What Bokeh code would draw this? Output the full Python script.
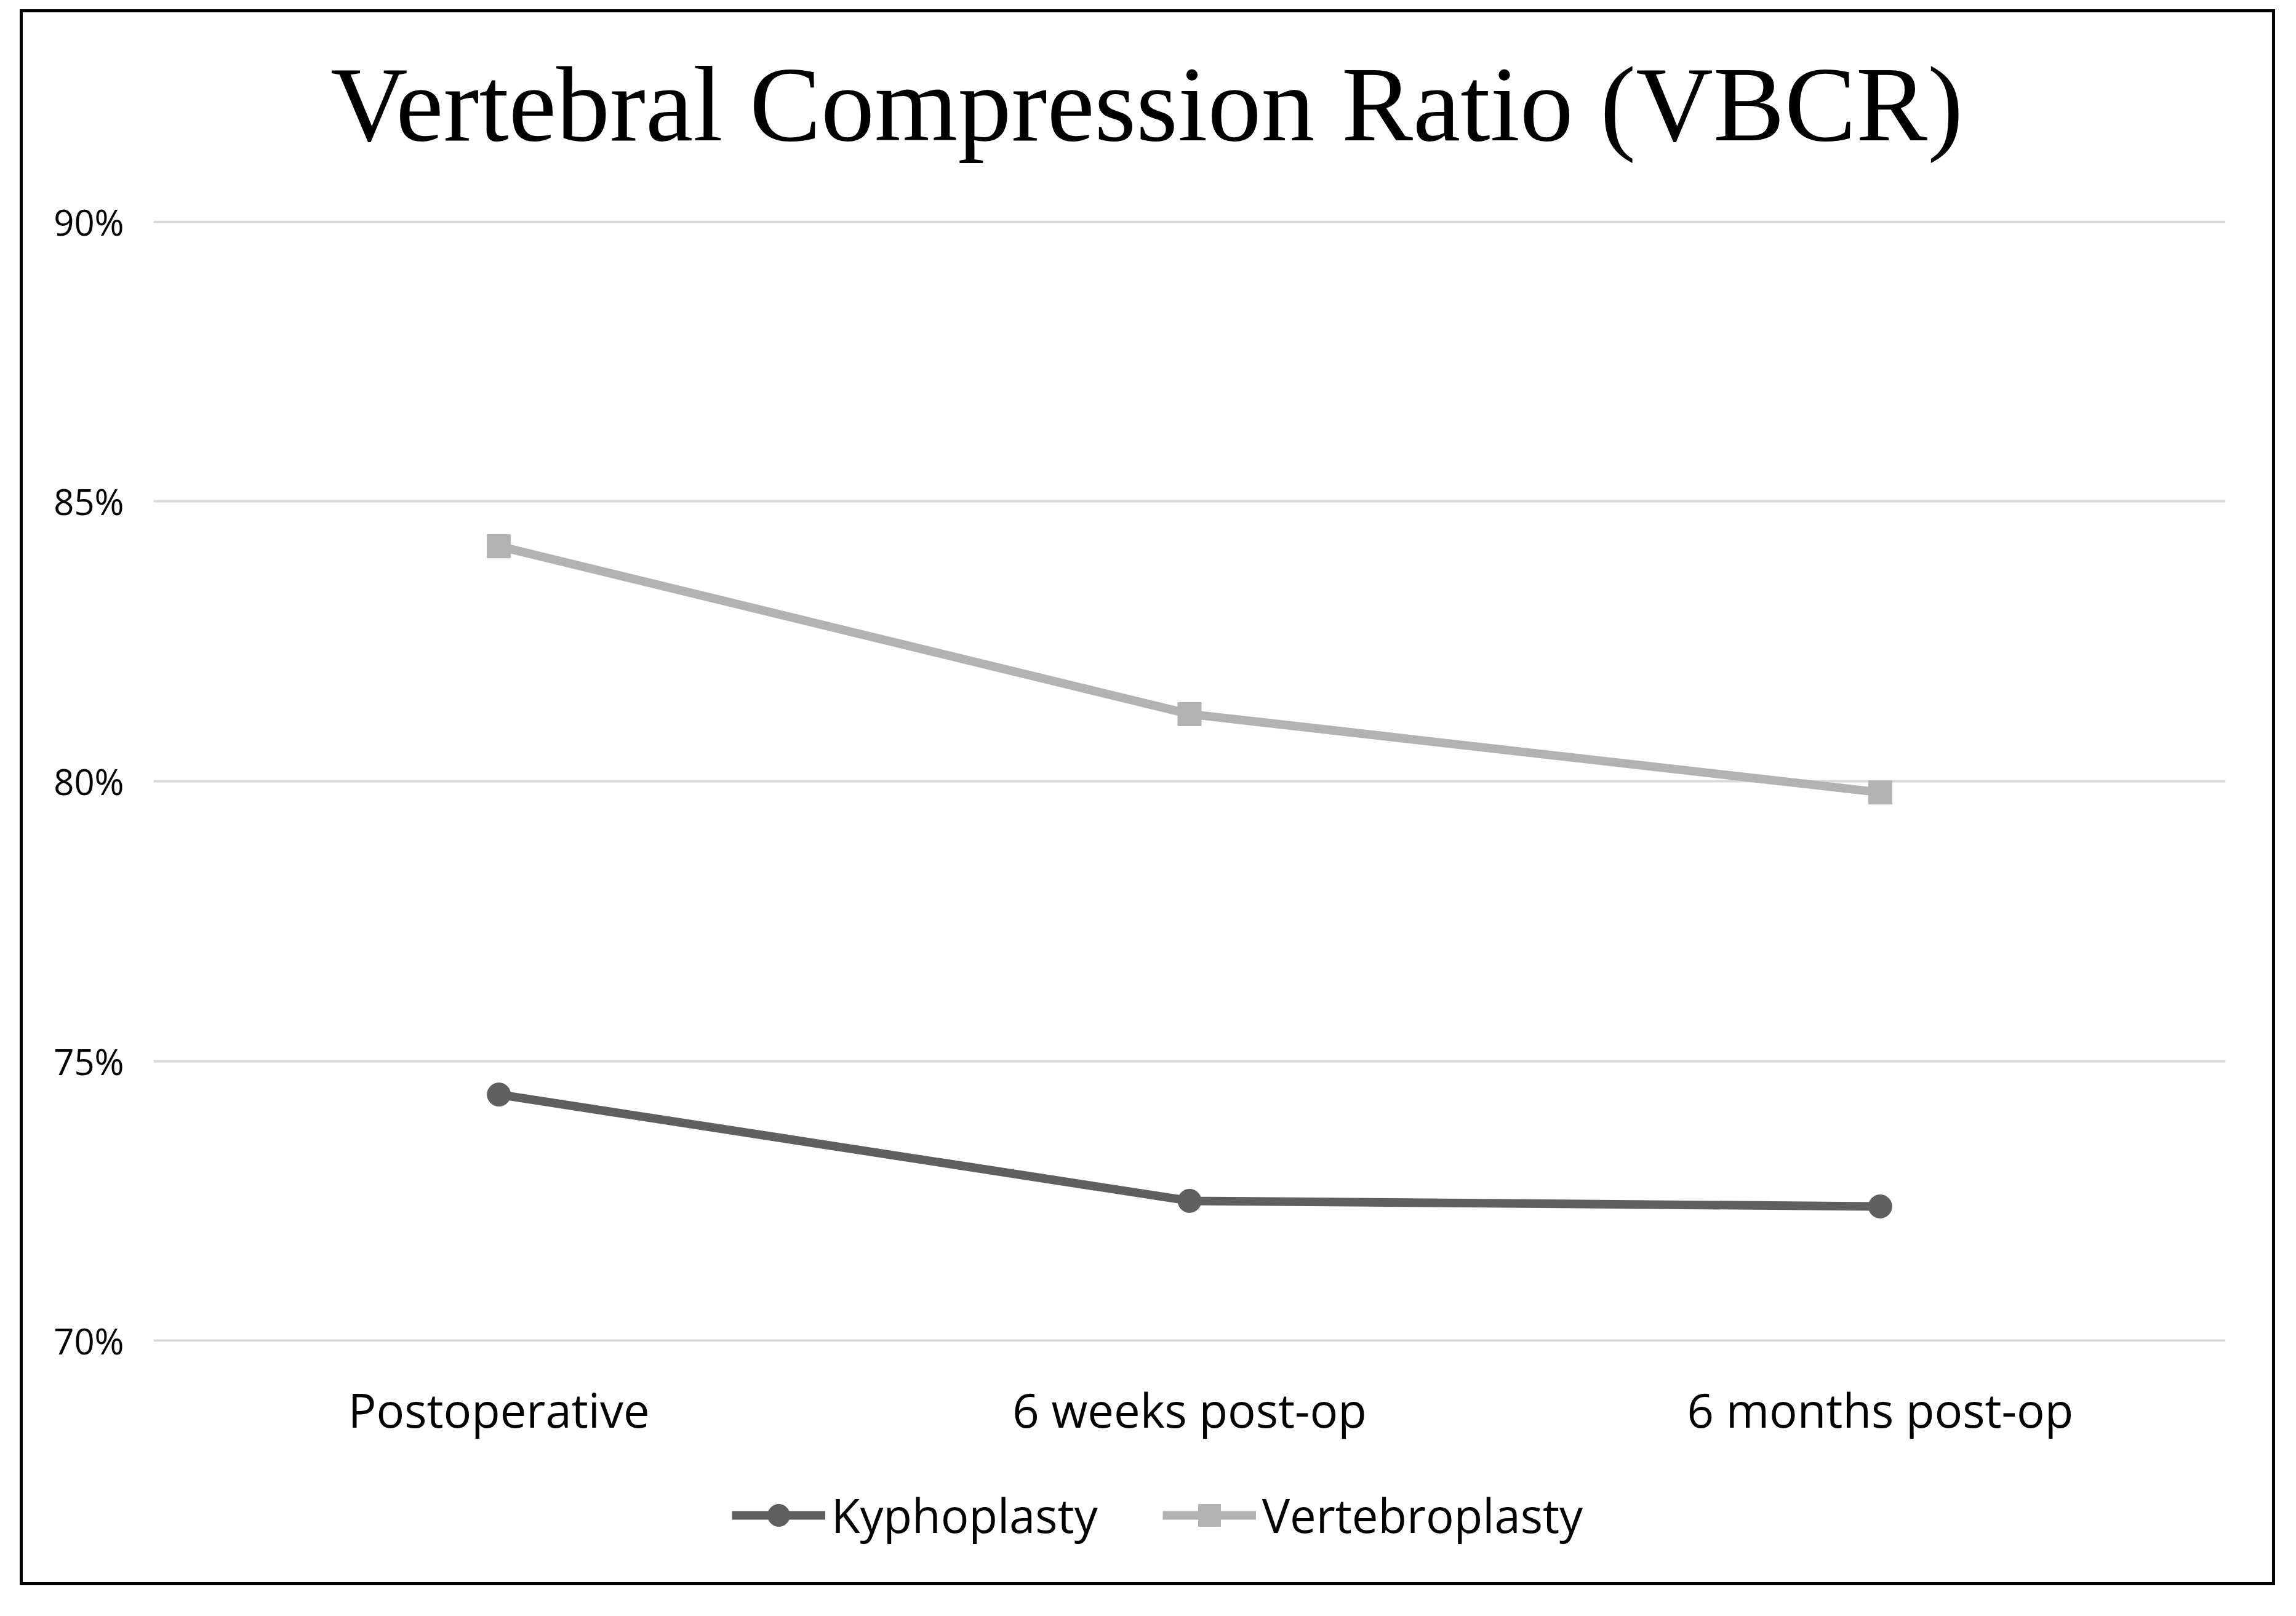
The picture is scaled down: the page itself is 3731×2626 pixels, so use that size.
from bokeh.plotting import figure
from bokeh.layouts import column
from bokeh.models import (Legend, LegendItem, NumeralTickFormatter,
                          FixedTicker, Range1d, Label)
from bokeh.embed import file_html
from bokeh.resources import INLINE

categories = ["Postoperative", "6 weeks post-op", "6 months post-op"]
kyphoplasty = [0.744, 0.725, 0.724]
vertebroplasty = [0.842, 0.812, 0.798]
y_ticks = [0.70, 0.75, 0.80, 0.85, 0.90]
series_names = ["Kyphoplasty", "Vertebroplasty"]
title_text = "Vertebral Compression Ratio (VBCR)"

k_col = "#5f5f5f"
v_col = "#b2b2b2"

W = 3655
HT, H1, H2 = 290, 2087, 174
FL, FR, FT, FB = 212, 76, 48, 217   # frame margins inside main canvas
FRAME_W = W - FL - FR               # frames of the stacked figures line up


def strip(height, **kw):
    f = figure(width=W, height=height, output_backend="svg",
               toolbar_location=None, x_axis_type=None, y_axis_type=None,
               title=None, min_border=0, **kw)
    f.background_fill_color = "white"
    f.border_fill_color = "white"
    f.outline_line_color = None
    return f


# ---------------- title strip ----------------
t = strip(HT, x_range=Range1d(0, FRAME_W), y_range=Range1d(0, HT))
t.add_layout(Label(x=1614, y=141, text=title_text, text_align="center",
                   text_baseline="alphabetic", text_font="Liberation Serif",
                   text_font_size="174px", text_color="black"))

# ---------------- main chart ----------------
p = figure(x_range=categories, y_range=Range1d(0.6998, 0.9002), title=None,
           width=W, height=H1, output_backend="svg", toolbar_location=None,
           min_border_left=FL, min_border_right=FR,
           min_border_top=FT, min_border_bottom=FB)
p.background_fill_color = "white"
p.border_fill_color = "white"
p.outline_line_color = None

for ax in (p.xaxis, p.yaxis):
    ax.axis_line_color = None
    ax.major_tick_line_color = None
    ax.minor_tick_line_color = None
    ax.major_tick_out = 0
    ax.major_label_text_color = "black"
    ax.major_label_text_font = "Open Sans"

p.yaxis.ticker = FixedTicker(ticks=y_ticks)
p.yaxis.formatter = NumeralTickFormatter(format="0%")
p.yaxis.major_label_text_font_size = "58px"
p.yaxis.major_label_standoff = 48
p.xaxis.major_label_text_font_size = "76px"
p.xaxis.major_label_standoff = 58

p.xgrid.grid_line_color = None
p.ygrid.grid_line_color = "#d9d9d9"
p.ygrid.grid_line_width = 4

p.line(categories, kyphoplasty, line_color=k_col, line_width=14)
p.scatter(categories, kyphoplasty, marker="circle", size=38,
          fill_color=k_col, line_color=k_col)
p.line(categories, vertebroplasty, line_color=v_col, line_width=14)
p.scatter(categories, vertebroplasty, marker="square", size=38,
          fill_color=v_col, line_color=v_col)

# ---------------- legend strip ----------------
q = strip(H2, x_range=categories, y_range=Range1d(0, 1))
lk = q.line(categories, kyphoplasty, line_color=k_col, line_width=14, visible=False)
sk = q.scatter(categories, kyphoplasty, marker="circle", size=38,
               fill_color=k_col, line_color=k_col, visible=False)
lv = q.line(categories, vertebroplasty, line_color=v_col, line_width=14, visible=False)
sv = q.scatter(categories, vertebroplasty, marker="square", size=38,
               fill_color=v_col, line_color=v_col, visible=False)

legend = Legend(items=[LegendItem(label=series_names[0], renderers=[lk, sk]),
                       LegendItem(label=series_names[1], renderers=[lv, sv])],
                orientation="horizontal", location=(940, 58),
                glyph_width=152, glyph_height=90, label_height=90,
                label_standoff=10, spacing=105, padding=0, margin=0,
                border_line_color=None, background_fill_alpha=0,
                inactive_fill_alpha=0,
                label_text_font="Open Sans", label_text_font_size="76px",
                label_text_color="black")
q.add_layout(legend, "center")

layout = column(t, p, q, spacing=0, margin=(15, 0, 0, 32),
                styles={"border": "5px solid black", "background": "white"})

open("out.html", "w").write(file_html(layout, INLINE))
